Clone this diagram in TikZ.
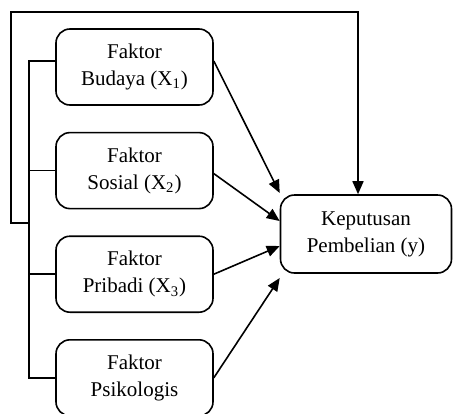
\documentclass[tikz,border=0pt]{standalone}
\usepackage{fontspec}
\setmainfont{Liberation Serif}
\usetikzlibrary{arrows.meta,positioning,calc}

\begin{document}
\begin{tikzpicture}[x=0.5pt,y=-0.5pt,>={Triangle[length=6.5pt,width=5.5pt]},node distance=13pt,
  faktor/.style={draw,rounded corners=7pt,line width=0.8pt,minimum width=78.5pt,minimum height=38pt,align=center,inner sep=2pt,font=\fontsize{10.5}{13.5}\selectfont},
  hasil/.style={faktor,minimum width=85.5pt,minimum height=39pt},
  link/.style={->,line width=0.8pt}]
\useasboundingbox (0,0) rectangle (453,413);
\node[faktor] (b1) at (134.5,67) {Faktor\\Budaya (X\textsubscript{1})};
\node[faktor,below=of b1] (b2) {Faktor\\Sosial (X\textsubscript{2})};
\node[faktor,below=of b2] (b3) {Faktor\\Pribadi (X\textsubscript{3})};
\node[faktor,below=of b3] (b4) {Faktor\\Psikologis};
\node[hasil] (kp) at (366,234) {Keputusan\\Pembelian (y)};
% bracket and feedback line
\coordinate (br) at (29,0);
\coordinate (lp) at (29,223);
\coordinate (tp) at (358,12);
\draw[line width=0.8pt] ([yshift=3pt]b1.west) -| (br |- b4.west) -- (b4.west);
\draw[line width=0.8pt] (b2.west) -- (br |- b2.west);
\draw[line width=0.8pt] (b3.west) -- (br |- b3.west);
\draw[link] (lp) -| (11,12) -- (tp) -- (tp |- kp.north);
% arrows into y
\draw[link] ([yshift=3pt]b1.east) -- ($(kp.west)+(0,-41)$);
\draw[link] ([yshift=-1.5pt]b2.east) -- ($(kp.west)+(0,-13)$);
\draw[link] (b3.east) -- ($(kp.west)+(0,12)$);
\draw[link] (b4.east) -- ($(kp.west)+(0,44)$);
\end{tikzpicture}
\end{document}
